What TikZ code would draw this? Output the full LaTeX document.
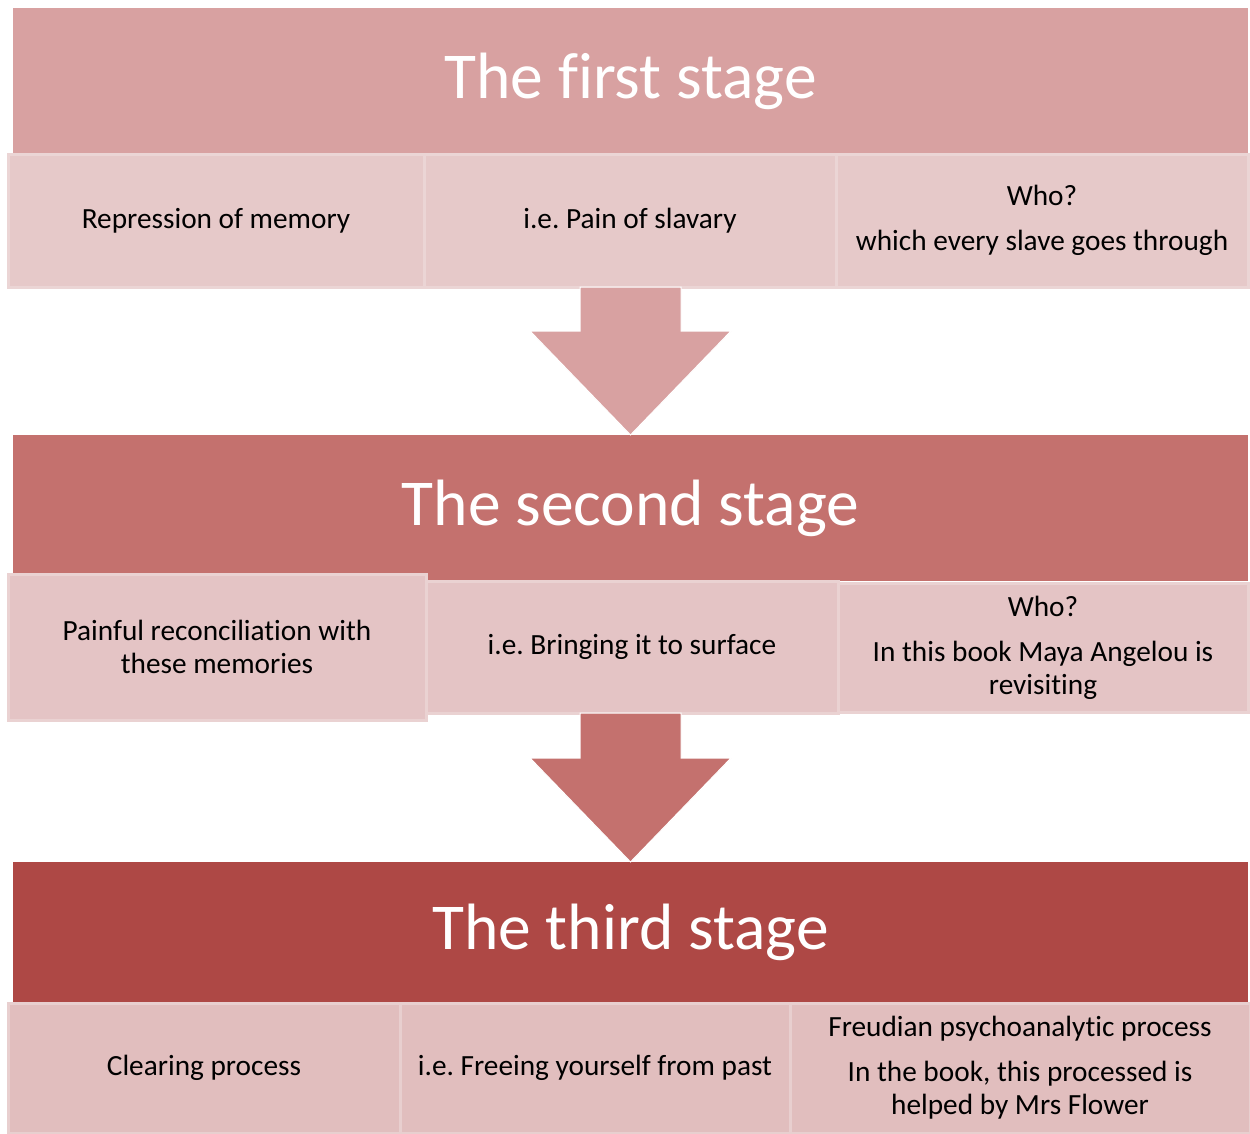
\documentclass[tikz,border=0pt]{standalone}
\usepackage{fontspec}
\setmainfont{Carlito}[Ligatures={NoCommon}]
\usetikzlibrary{calc}
\definecolor{hA}{HTML}{D8A1A1}
\definecolor{hB}{HTML}{C4716E}
\definecolor{hC}{HTML}{AE4845}
\definecolor{rA}{HTML}{E6C9C9}
\definecolor{rB}{HTML}{E4C4C5}
\definecolor{rC}{HTML}{E1BEBE}
\definecolor{eA}{HTML}{EBD5D5}
\definecolor{eB}{HTML}{EAD2D2}
\definecolor{eC}{HTML}{E8CFCF}
\frenchspacing
\begin{document}
\begin{tikzpicture}[x=1pt,y=-1pt,
  hdr/.style={rectangle, anchor=north west, inner sep=0pt, outer sep=0pt, text=white,
    font=\fontsize{65.5}{78}\selectfont},
  subbox/.style={rectangle, anchor=north west, inner sep=0pt, outer sep=0pt, align=center,
    font=\fontsize{29.3}{33}\selectfont, line width=3pt, text=black},
  blockarrow/.style={draw=white, line width=1pt}]
\useasboundingbox[fill=white] (0,0) rectangle (1250,1133);

% ---- stage 1
\node[hdr, fill=hA, minimum width=1235pt, minimum height=146pt] (h1) at (13,8) {The first stage};
\node[subbox, fill=rA, draw=eA, minimum width=416pt, minimum height=133pt] (r1a) at (8,154) {Repression of memory};
\node[subbox, fill=rA, draw=eA, minimum width=412pt, minimum height=133pt] (r1b) at (424,154) {i.e. Pain of slavary};
\node[subbox, fill=rA, draw=eA, minimum width=412pt, minimum height=133pt] (r1c) at (836,154) {Who?\\[12pt]which every slave goes through};

% ---- stage 2
\node[hdr, fill=hB, minimum width=1235pt, minimum height=146pt] (h2) at (13,435) {The second stage};
\node[subbox, fill=rB, draw=eB, minimum width=412pt, minimum height=132pt] (r2b) at (426,581) {i.e. Bringing it to surface};
\node[subbox, fill=rB, draw=eB, minimum width=410pt, minimum height=129pt] (r2c) at (838,583) {Who?\\[12pt]In this book Maya Angelou is\\revisiting};
\node[subbox, fill=rB, draw=eB, minimum width=418pt, minimum height=146pt] (r2a) at (8,574) {Painful reconciliation with\\these memories};

% ---- stage 3
\node[hdr, fill=hC, minimum width=1235pt, minimum height=141pt] (h3) at (13,862) {The third stage};
\node[subbox, fill=rC, draw=eC, minimum width=392pt, minimum height=130pt] (r3a) at (8,1003) {Clearing process};
\node[subbox, fill=rC, draw=eC, minimum width=390pt, minimum height=130pt] (r3b) at (400,1003) {i.e. Freeing yourself from past};
\node[subbox, fill=rC, draw=eC, minimum width=460pt, minimum height=130pt] (r3c) at (790,1003) {Freudian psychoanalytic process\\[12pt]In the book, this processed is\\helped by Mrs Flower};

% ---- block arrows
\filldraw[fill=hA, blockarrow] let \p1=(r1b.south), \p2=(h2.north) in
  (\x2-50.5pt,\y1) -- (\x2+50.5pt,\y1) -- (\x2+50.5pt,\y2+104pt) -- (\x2+100.5pt,\y2+104pt)
  -- (\x2,\y2) -- (\x2-100.5pt,\y2+104pt) -- (\x2-50.5pt,\y2+104pt) -- cycle;
\filldraw[fill=hB, blockarrow] let \p1=(r2b.south), \p2=(h3.north) in
  (\x2-50.5pt,\y1) -- (\x2+50.5pt,\y1) -- (\x2+50.5pt,\y2+104pt) -- (\x2+100.5pt,\y2+104pt)
  -- (\x2,\y2) -- (\x2-100.5pt,\y2+104pt) -- (\x2-50.5pt,\y2+104pt) -- cycle;
\end{tikzpicture}
\end{document}
